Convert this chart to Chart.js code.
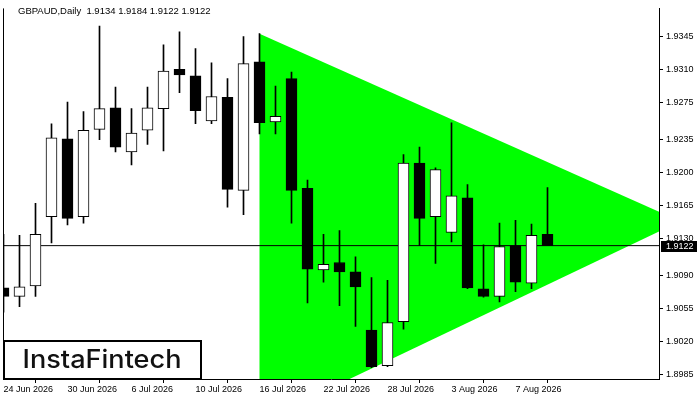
<!DOCTYPE html>
<html>
<head>
<meta charset="utf-8">
<script src="https://cdn.jsdelivr.net/npm/chart.js@4.4.1/dist/chart.umd.min.js"></script>
<style>
html, body { margin: 0; padding: 0; background: #fff; }
#wrap { width: 700px; height: 400px; }
</style>
</head>
<body>
<div id="wrap"><canvas id="chart" width="700" height="400"></canvas></div>
<script>
// daily bars, GBPAUD
const dates = ['24 Jun 2026', '25 Jun 2026', '26 Jun 2026', '29 Jun 2026', '30 Jun 2026',
  '1 Jul 2026', '2 Jul 2026', '3 Jul 2026', '6 Jul 2026', '7 Jul 2026', '8 Jul 2026', '9 Jul 2026',
  '10 Jul 2026', '13 Jul 2026', '14 Jul 2026', '15 Jul 2026', '16 Jul 2026', '17 Jul 2026',
  '20 Jul 2026', '21 Jul 2026', '22 Jul 2026', '23 Jul 2026', '24 Jul 2026', '27 Jul 2026',
  '28 Jul 2026', '29 Jul 2026', '30 Jul 2026', '31 Jul 2026', '3 Aug 2026', '4 Aug 2026',
  '5 Aug 2026', '6 Aug 2026', '7 Aug 2026', '10 Aug 2026', '11 Aug 2026'];

const open  = [1.9077, 1.9068, 1.9079, 1.9153, 1.9236, 1.9153, 1.9246, 1.9269, 1.9222, 1.9245, 1.9268, 1.9310, 1.9303, 1.9255, 1.9280, 1.9181, 1.9318, 1.9254, 1.9300, 1.9183, 1.9096, 1.9104, 1.9094, 1.9032, 1.8994, 1.9041, 1.9210, 1.9153, 1.9136, 1.9173, 1.9076, 1.9068, 1.9122, 1.9082, 1.9134];
const high  = [1.9134, 1.9133, 1.9167, 1.9252, 1.9275, 1.9265, 1.9356, 1.9291, 1.9268, 1.9291, 1.9336, 1.9350, 1.9332, 1.9317, 1.9300, 1.9345, 1.9348, 1.9292, 1.9307, 1.9192, 1.9134, 1.9138, 1.9110, 1.9088, 1.9085, 1.9219, 1.9227, 1.9205, 1.9253, 1.9187, 1.9123, 1.9146, 1.9149, 1.9145, 1.9184];
const low   = [1.9051, 1.9057, 1.9068, 1.9125, 1.9144, 1.9146, 1.9235, 1.9222, 1.9208, 1.9230, 1.9223, 1.9285, 1.9252, 1.9252, 1.9163, 1.9155, 1.9241, 1.9241, 1.9146, 1.9061, 1.9083, 1.9058, 1.9036, 1.8992, 1.8993, 1.9033, 1.9122, 1.9103, 1.9126, 1.9076, 1.9067, 1.9062, 1.9073, 1.9076, 1.9122];
const close = [1.9068, 1.9078, 1.9134, 1.9237, 1.9151, 1.9245, 1.9268, 1.9227, 1.9242, 1.9269, 1.9308, 1.9304, 1.9266, 1.9281, 1.9182, 1.9316, 1.9253, 1.9260, 1.9181, 1.9097, 1.9102, 1.9094, 1.9078, 1.8993, 1.9040, 1.9210, 1.9151, 1.9203, 1.9175, 1.9077, 1.9068, 1.9121, 1.9083, 1.9133, 1.9122];

// triangle pattern corners (bar index, price)
const triX = [16, 42.3, 16];
const triY = [1.9348, 1.9148, 1.8934];

const symbol = 'GBPAUD,Daily';
const bid = 1.9122;

const yTicks = [1.9345, 1.9310, 1.9275, 1.9235, 1.9200, 1.9165, 1.9130, 1.9090, 1.9055, 1.9020, 1.8985];
const xTickIdx = [0, 4, 8, 12, 16, 20, 24, 28, 32];

const axisFont = { family: '"Liberation Sans", Arial, sans-serif', size: 9 };

const wickData = high.map((h, i) => ({ x: i, y: [low[i], h] }));
const bodyData = open.map((o, i) => ({ x: i, y: [o, close[i]] }));
const bodyColors = open.map((o, i) => close[i] >= o ? '#ffffff' : '#000000');

const triData = triX.map((x, i) => ({ x: x, y: triY[i] }));
triData.push(triData[0]);

const overlay = {
  id: 'overlay',
  afterDraw(chart) {
    const c = chart.ctx;
    const a = chart.chartArea;
    const yb = chart.scales.y.getPixelForValue(bid);
    c.save();
    // left frame
    c.strokeStyle = '#000';
    c.lineWidth = 1;
    c.beginPath();
    c.moveTo(a.left + 0.5, a.top);
    c.lineTo(a.left + 0.5, a.bottom);
    c.stroke();

    // header
    const last = open.length - 1;
    c.fillStyle = '#000';
    c.font = '9.5px "Liberation Sans", Arial, sans-serif';
    c.textBaseline = 'middle';
    c.fillText(symbol + '  ' + [open[last], high[last], low[last], close[last]].map(v => v.toFixed(4)).join(' '), 18, 11);

    // bid label on the price axis
    c.fillRect(661, Math.round(yb) - 5, 36, 11);
    c.fillStyle = '#fff';
    c.font = axisFont.size + 'px ' + axisFont.family;
    c.fillText(bid.toFixed(4), 666, Math.round(yb) + 0.5);

    // logo
    c.fillStyle = '#fff';
    c.fillRect(4, 341, 197, 38);
    c.lineWidth = 2;
    c.strokeStyle = '#000';
    c.strokeRect(4, 341, 197, 38);
    c.fillStyle = '#111';
    c.font = '500 25px Inter, "Open Sans", sans-serif';
    c.textAlign = 'center';
    c.textBaseline = 'alphabetic';
    const txt = 'InstaFintech';
    const w = c.measureText(txt).width;
    c.translate(102, 368);
    c.scale(159 / w, 1);
    c.fillText(txt, 0, 0);
    c.restore();
  }
};

new Chart(document.getElementById('chart').getContext('2d'), {
  data: {
    datasets: [
      {
        type: 'bar',
        data: bodyData,
        backgroundColor: bodyColors,
        borderColor: '#000',
        borderWidth: 1,
        borderSkipped: false,
        barThickness: 11,
        grouped: false,
        order: 1
      },
      {
        type: 'bar',
        data: wickData,
        backgroundColor: '#000',
        borderWidth: 0,
        barThickness: 1,
        grouped: false,
        order: 2
      },
      {
        type: 'line',
        data: [{ x: -1, y: bid }, { x: 50, y: bid }],
        borderColor: '#000',
        borderWidth: 1,
        pointRadius: 0,
        order: 3
      },
      {
        type: 'line',
        data: triData,
        backgroundColor: '#00ff00',
        borderColor: 'rgba(0,0,0,0)',
        borderWidth: 1,
        pointRadius: 0,
        tension: 0,
        fill: 'shape',
        order: 4
      }
    ]
  },
  options: {
    responsive: false,
    animation: false,
    devicePixelRatio: 1,
    layout: { padding: { left: 3, top: 8, right: 0, bottom: 0 } },
    plugins: { legend: { display: false }, tooltip: { enabled: false } },
    scales: {
      x: {
        type: 'linear',
        min: -0.03125,
        max: 40.96875,
        offset: false,
        afterFit: s => { s.height = 21; },
        afterBuildTicks: s => { s.ticks = xTickIdx.map(v => ({ value: v })); },
        grid: { drawOnChartArea: false, drawTicks: true, tickLength: 4, color: '#000' },
        border: { display: true, color: '#000', width: 1 },
        ticks: {
          autoSkip: false,
          maxRotation: 0,
          align: 'start',
          padding: 1,
          color: '#000',
          font: axisFont,
          callback: v => dates[v]
        }
      },
      y: {
        type: 'linear',
        position: 'right',
        min: 1.8979825,
        max: 1.937494,
        afterFit: s => { s.width = 41; },
        afterBuildTicks: s => { s.ticks = yTicks.map(v => ({ value: v })); },
        grid: { drawOnChartArea: false, drawTicks: true, tickLength: 4, color: '#000' },
        border: { display: true, color: '#000', width: 1 },
        ticks: {
          padding: 3,
          color: '#000',
          font: axisFont,
          callback: v => v.toFixed(4)
        }
      }
    }
  },
  plugins: [overlay]
});
</script>
</body>
</html>
